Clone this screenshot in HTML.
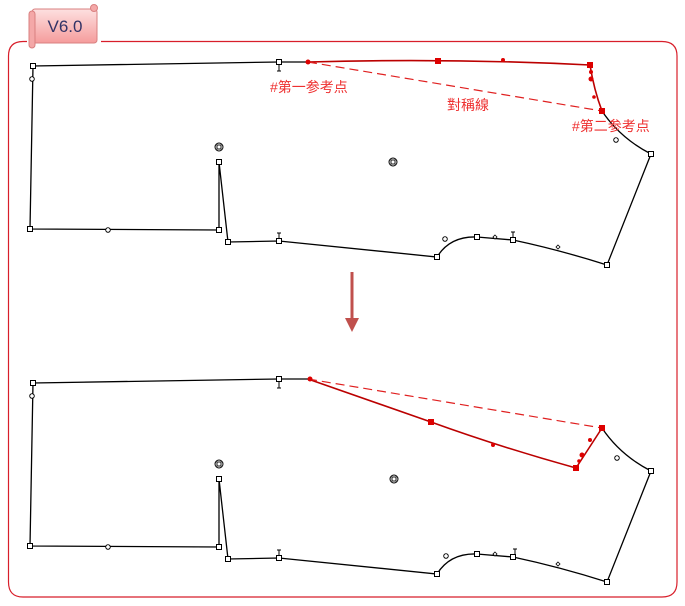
<!DOCTYPE html>
<html><head><meta charset="utf-8"><style>
body{margin:0;background:#fff;}
svg{display:block;}
text{font-family:"Liberation Sans","Noto Sans CJK SC",sans-serif;}
</style></head><body>
<svg width="685" height="606" viewBox="0 0 685 606">
<defs>
<linearGradient id="g" x1="0" y1="0" x2="0" y2="1"><stop offset="0" stop-color="#fde0e0"/><stop offset="1" stop-color="#f59c9c"/></linearGradient>
<g id="sq"><rect x="-2.5" y="-2.5" width="5" height="5" fill="#fff" stroke="#000" stroke-width="1"/></g>
<g id="ci"><circle r="2.3" fill="#fff" stroke="#000" stroke-width="0.9"/></g>
<g id="di"><path d="M0,-2 L2,0 L0,2 L-2,0Z" fill="#fff" stroke="#000" stroke-width="0.8"/></g>
<g id="dc"><circle r="4" fill="#fff" stroke="#000" stroke-width="1"/><rect x="-2" y="-2" width="4" height="4" fill="#fff" stroke="#000" stroke-width="0.9"/></g>
<g id="rs"><rect x="-3" y="-3" width="6" height="6" fill="#d00"/></g>
</defs>
<path d="M101,41.5 H662 Q677,41.5 677,56 V582 Q677,597 662,597 H23 Q8.5,597 8.5,582 V56 Q8.5,41.5 23,41.5 H27" fill="none" stroke="#d81e2a" stroke-width="1.2"/>
<rect x="32" y="9" width="65" height="34" rx="3" fill="url(#g)" stroke="#d98080"/>
<rect x="29" y="11" width="6" height="37" rx="3" fill="#f4a8a8" stroke="#d98080"/>
<circle cx="94" cy="8" r="3.5" fill="#f4a8a8" stroke="#d98080"/>
<text x="65" y="32" font-size="17" fill="#333366" text-anchor="middle">V6.0</text>

<g fill="none" stroke="#000" stroke-width="1.3">
<path d="M308,62 L279,62 L33,66 L30,229 L219,230 L219,162 L228,242 L279,241 L437,257 Q450,236 477,237 L513,240 Q560,250 607,265 L651,154 Q620,138 602,111"/>
<path d="M308,379 L279,379 L33,383 L30,546 L219,547 L219,479 L228,559 L279,558 L437,574 Q450,553 477,554 L513,557 Q560,567 607,582 L651,471 Q620,455 602,428"/>
</g>
<path d="M308,62 Q450,58 590,65 Q594,90 602,111" fill="none" stroke="#b00" stroke-width="1.6"/>
<line x1="308" y1="62" x2="602" y2="111" stroke="#e02020" stroke-width="1.2" stroke-dasharray="9,5"/>
<path d="M308,379 L431,422 Q500,447 576,468 L602,428" fill="none" stroke="#b00" stroke-width="1.6"/>
<line x1="308" y1="379" x2="602" y2="428" stroke="#e02020" stroke-width="1.2" stroke-dasharray="9,5"/>

<use href="#sq" x="33" y="66"/><use href="#ci" x="32" y="79"/><use href="#sq" x="30" y="229"/><use href="#ci" x="108" y="230"/>
<use href="#sq" x="219" y="230"/><use href="#sq" x="219" y="162"/><use href="#dc" x="219" y="147"/><use href="#sq" x="228" y="242"/>
<use href="#sq" x="279" y="241"/><use href="#sq" x="279" y="62"/><use href="#sq" x="437" y="257"/><use href="#sq" x="477" y="237"/>
<use href="#di" x="495" y="237"/><use href="#sq" x="513" y="240"/><use href="#di" x="558" y="247"/><use href="#sq" x="607" y="265"/>
<use href="#sq" x="651" y="154"/><use href="#ci" x="616" y="140"/><use href="#dc" x="393" y="162"/><use href="#ci" x="445" y="239"/>
<path d="M279,65 V71 M277,71 H281 M513,237 V232 M511,232 H515 M279,238 V233 M277,233 H281" stroke="#000"/>
<circle cx="308" cy="62" r="2.5" fill="#d00"/><use href="#rs" x="438" y="61"/><circle cx="503" cy="60" r="2" fill="#d00"/>
<use href="#rs" x="590" y="65"/><circle cx="591" cy="72" r="2" fill="#d00"/><circle cx="591" cy="79" r="2.5" fill="#d00"/><circle cx="594" cy="97" r="1.8" fill="#d00"/><use href="#rs" x="602" y="111"/>

<use href="#sq" x="33" y="383"/><use href="#ci" x="32" y="396"/><use href="#sq" x="30" y="546"/><use href="#ci" x="108" y="547"/>
<use href="#sq" x="219" y="547"/><use href="#sq" x="219" y="479"/><use href="#dc" x="219" y="464"/><use href="#sq" x="228" y="559"/>
<use href="#sq" x="279" y="558"/><use href="#sq" x="279" y="379"/><use href="#sq" x="437" y="574"/><use href="#sq" x="477" y="554"/>
<use href="#di" x="495" y="554"/><use href="#sq" x="513" y="557"/><use href="#di" x="558" y="564"/><use href="#sq" x="607" y="582"/>
<use href="#sq" x="651" y="471"/><use href="#ci" x="617" y="458"/><use href="#dc" x="394" y="479"/><use href="#ci" x="446" y="556"/>
<path d="M279,382 V388 M277,388 H281 M515,554 V549 M513,549 H517 M279,555 V550 M277,550 H281" stroke="#000"/>
<circle cx="310" cy="379" r="2.5" fill="#d00"/><use href="#rs" x="431" y="422"/><circle cx="493" cy="445" r="2" fill="#d00"/>
<use href="#rs" x="576" y="468"/><circle cx="579" cy="461" r="1.8" fill="#d00"/><circle cx="582" cy="455" r="2.5" fill="#d00"/><circle cx="590" cy="440" r="2" fill="#d00"/><use href="#rs" x="602" y="428"/>

<text x="270" y="92" font-size="14" fill="#ee3030">#第一参考点</text>
<text x="447" y="110" font-size="14" fill="#ee3030">對稱線</text>
<text x="572" y="131" font-size="14" fill="#ee3030">#第二参考点</text>

<line x1="352" y1="272" x2="352" y2="320" stroke="#c0504d" stroke-width="3"/>
<path d="M345,318 L352,332 L359,318 Z" fill="#c0504d"/>
</svg>
</body></html>
